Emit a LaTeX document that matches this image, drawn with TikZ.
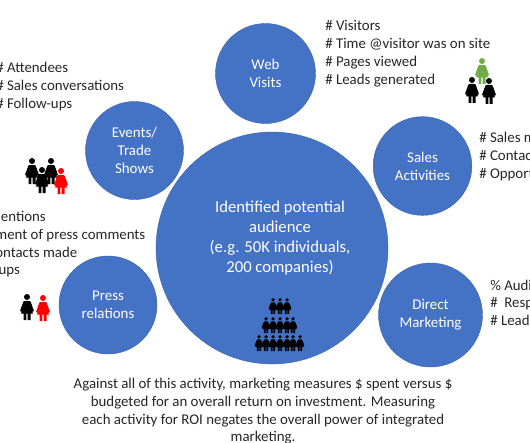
\documentclass[tikz,border=0pt]{standalone}
\usepackage{fontspec}
\setmainfont{Carlito}
\definecolor{bubble}{HTML}{4472C4}
\definecolor{figgreen}{HTML}{70AD47}
\definecolor{ink}{HTML}{262626}
\newcommand{\fem}[4]{% x, top y, colour, scale
  \begin{scope}[shift={(#1,#2)},x=#4*0.75pt,y=-#4*0.75pt]
    \fill[#3] (0,3) circle[radius=3];
    \fill[#3] (-2.5,7) -- (2.5,7) .. controls (3.5,7) and (4,8) .. (4.5,10) -- (7,17) -- (5.6,17.6) -- (3.6,12.5) -- (6,19.5) -- (3.5,19.5) -- (3.5,26) -- (0.6,26) -- (0.6,19.5) -- (-0.6,19.5) -- (-0.6,26) -- (-3.5,26) -- (-3.5,19.5) -- (-6,19.5) -- (-3.6,12.5) -- (-5.6,17.6) -- (-7,17) -- (-4.5,10) .. controls (-4,8) and (-3.5,7) .. (-2.5,7) -- cycle;
  \end{scope}}
\tikzset{
  bub/.style={circle,fill=bubble,draw=bubble!85!black,line width=0.3pt,text=white,align=center,inner sep=0pt,font=\fontsize{11.2}{13.4}\selectfont},
  lst/.style={anchor=north west,align=left,inner sep=0pt,text=ink,font=\fontsize{11.15}{13.3}\selectfont},
}
\begin{document}
\begin{tikzpicture}[x=0.75pt,y=-0.75pt]
\useasboundingbox (0,0) rectangle (530,442);
\clip (0,0) rectangle (530,442);
\node[bub,minimum size=75pt] (web) at (265.5,73.5) {Web\\Visits};
\node[bub,minimum size=73.5pt] (events) at (134.5,150.5) {Events/\\Trade\\Shows};
\node[bub,minimum size=74pt] (sales) at (422.5,166) {Sales\\Activities};
\node[bub,minimum size=78pt] (direct) at (430.5,315) {Direct\\Marketing};
\node[bub,minimum size=73.5pt] (press) at (108,305) {Press\\relations};
\node[circle,fill=bubble,draw=bubble!85!black,line width=0.3pt,minimum size=174pt,inner sep=0pt] (main) at (272,248) {};
\node[text=white,align=center,inner sep=0pt,font=\fontsize{12.5}{15}\selectfont] (maintext) at (280,238) {Identified potential\\audience\\(e.g. 50K individuals,\\200 companies)};
\node[lst] (webl) at (325,20.5) {\# Visitors\\\# Time @visitor was on site\\\# Pages viewed\\\# Leads generated};
\node[lst] (evl) at (-4,62) {\# Attendees\\\# Sales conversations\\\# Follow-ups};
\node[lst] (prl) at (-35,211) {\hspace*{-2pt}\# of mentions\\Sentiment of press comments\\\hspace*{-2pt}\# of contacts made\\\hspace*{-8pt}Follow-ups};
\node[lst] (sal) at (479,132) {\# Sales meetings\\\# Contacts\\\# Opportunities};
\node[lst] (dil) at (490,279.5) {\% Audience\\\#\ \ Responses\\\# Leads};
\node[anchor=north,align=center,inner sep=0pt,text=ink,font=\fontsize{11.15}{13.3}\selectfont] (foot) at (263,378) {Against all of this activity, marketing measures \$ spent versus \$\\budgeted for an overall return on investment. Measuring\\each activity for ROI negates the overall power of integrated\\marketing.};
\fem{482}{58}{figgreen}{1}
\fem{472}{77}{black}{1}
\fem{489}{78}{black}{1}
\fem{32}{158}{black}{1}
\fem{51}{158}{black}{1}
\fem{42}{167}{black}{1}
\fem{61}{168}{red}{1}
\fem{27}{294}{black}{1}
\fem{43}{295}{red}{1}
\foreach \px in {273,280,287} {\fem{\px}{298}{black}{0.62}}
\foreach \px in {266,273,280,287,293} {\fem{\px}{317}{black}{0.62}}
\foreach \px in {259,266,273,280,287,293,300} {\fem{\px}{335}{black}{0.62}}
\end{tikzpicture}
\end{document}
